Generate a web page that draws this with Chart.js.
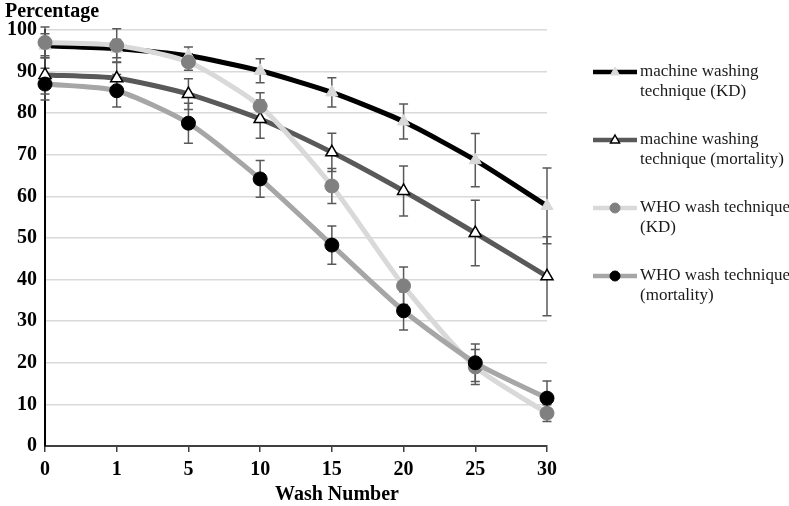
<!DOCTYPE html>
<html>
<head>
<meta charset="utf-8">
<script src="https://cdn.jsdelivr.net/npm/chart.js@4/dist/chart.umd.min.js"></script>
<style>
  html, body { margin: 0; padding: 0; background: #fff; }
  #wrap { width: 789px; height: 506px; }
</style>
</head>
<body>
<div id="wrap"><canvas id="myChart" width="789" height="506"></canvas></div>
<script>
// wash numbers (x axis categories)
var washNumbers = ['0', '1', '5', '10', '15', '20', '25', '30'];
var yTicks = [0, 10, 20, 30, 40, 50, 60, 70, 80, 90, 100];

// series values (%)
var machineKD        = [96.2, 95.5, 93.8, 90.2, 85.0, 78.0, 68.7, 57.7];
var machineMortality = [89.2, 88.4, 84.6, 78.6, 70.6, 61.3, 51.2, 40.8];
var whoKD            = [97.0, 96.3, 92.3, 81.7, 62.5, 38.5, 19.0, 7.9];
var whoMortality     = [87.0, 85.4, 77.6, 64.2, 48.3, 32.5, 20.0, 11.5];

// error bar half-widths
var machineKDErr        = [2.9, 2.2, 2.1, 2.9, 3.5, 4.2, 6.4, 9.1];
var machineMortalityErr = [4.6, 3.8, 3.7, 4.6, 4.6, 6.0, 7.9, 9.5];
var whoKDErr            = [3.7, 4.0, 2.0, 3.2, 4.2, 4.5, 4.2, 2.0];
var whoMortalityErr     = [3.8, 3.9, 4.8, 4.4, 4.6, 4.6, 4.5, 4.1];

var legendNames = [
  ['machine washing', 'technique (KD)'],
  ['machine washing', 'technique (mortality)'],
  ['WHO wash technique', '(KD)'],
  ['WHO wash technique', '(mortality)']
];

var serif = "'Liberation Serif', 'Times New Roman', serif";

function drawMarker(ctx, style, x, y, r, fill, stroke, lw) {
  ctx.save();
  ctx.beginPath();
  if (style === 'triangle') {
    ctx.moveTo(x, y - r);
    ctx.lineTo(x + r * 0.9, y + r * 0.6);
    ctx.lineTo(x - r * 0.9, y + r * 0.6);
    ctx.closePath();
  } else {
    ctx.arc(x, y, r, 0, Math.PI * 2);
  }
  ctx.fillStyle = fill;
  ctx.fill();
  if (lw) {
    ctx.lineWidth = lw;
    ctx.strokeStyle = stroke;
    ctx.stroke();
  }
  ctx.restore();
}

// error bars drawn through the y scale
var errorBars = {
  id: 'errorBars',
  beforeDatasetsDraw: function (chart) {
    var ctx = chart.ctx, y = chart.scales.y;
    ctx.save();
    ctx.strokeStyle = '#595959';
    ctx.lineWidth = 1.5;
    chart.data.datasets.forEach(function (ds, i) {
      var meta = chart.getDatasetMeta(i);
      meta.data.forEach(function (pt, j) {
        var v = ds.data[j], e = ds.errors[j];
        var top = y.getPixelForValue(v + e), bot = y.getPixelForValue(v - e);
        ctx.beginPath();
        ctx.moveTo(pt.x, top); ctx.lineTo(pt.x, bot);
        ctx.moveTo(pt.x - 4.5, top); ctx.lineTo(pt.x + 4.5, top);
        ctx.moveTo(pt.x - 4.5, bot); ctx.lineTo(pt.x + 4.5, bot);
        ctx.stroke();
      });
    });
    ctx.restore();
  }
};

// axis titles and legend at the right
var extras = {
  id: 'extras',
  afterDraw: function (chart) {
    var ctx = chart.ctx;
    ctx.save();
    ctx.fillStyle = '#000';
    ctx.font = 'bold 20px ' + serif;
    ctx.textBaseline = 'middle';
    ctx.textAlign = 'left';
    ctx.fillText('Percentage', 5, 12);
    ctx.textAlign = 'center';
    ctx.fillText('Wash Number', 337, 495);

    ctx.textAlign = 'left';
    ctx.font = '17px ' + serif;
    chart.data.datasets.forEach(function (ds, i) {
      var ly = 72 + i * 68;
      ctx.beginPath();
      ctx.strokeStyle = ds.borderColor;
      ctx.lineWidth = 4.5;
      ctx.moveTo(593, ly); ctx.lineTo(637, ly);
      ctx.stroke();
      drawMarker(ctx, ds.pointStyle, 615, ly, 5, ds.pointBackgroundColor, ds.pointBorderColor, ds.pointBorderWidth);
      ctx.fillStyle = '#1a1a1a';
      ctx.fillText(legendNames[i][0], 640, ly);
      ctx.fillText(legendNames[i][1], 640, ly + 20);
    });
    ctx.restore();
  }
};

var ctx = document.getElementById('myChart').getContext('2d');

var myChart = new Chart(ctx, {
  type: 'line',
  data: {
    labels: washNumbers,
    datasets: [{
      label: 'machine washing technique (KD)',
      data: machineKD,
      errors: machineKDErr,
      borderColor: '#000000',
      borderWidth: 5,
      pointStyle: 'triangle',
      pointRadius: 7,
      pointBackgroundColor: '#d9d9d9',
      pointBorderColor: '#d9d9d9',
      pointBorderWidth: 1,
      order: 4
    }, {
      label: 'machine washing technique (mortality)',
      data: machineMortality,
      errors: machineMortalityErr,
      borderColor: '#595959',
      borderWidth: 5,
      pointStyle: 'triangle',
      pointRadius: 7,
      pointBackgroundColor: '#ffffff',
      pointBorderColor: '#000000',
      pointBorderWidth: 1.5,
      order: 3
    }, {
      label: 'WHO wash technique (KD)',
      data: whoKD,
      errors: whoKDErr,
      borderColor: '#d9d9d9',
      borderWidth: 5,
      pointStyle: 'circle',
      pointRadius: 7,
      pointBackgroundColor: '#808080',
      pointBorderColor: '#808080',
      pointBorderWidth: 1,
      order: 2
    }, {
      label: 'WHO wash technique (mortality)',
      data: whoMortality,
      errors: whoMortalityErr,
      borderColor: '#a6a6a6',
      borderWidth: 5,
      pointStyle: 'circle',
      pointRadius: 7,
      pointBackgroundColor: '#000000',
      pointBorderColor: '#000000',
      pointBorderWidth: 1,
      order: 1
    }]
  },
  options: {
    responsive: false,
    animation: false,
    tension: 0.22,
    layout: { padding: { left: 0, right: 242, top: 30, bottom: 0 } },
    plugins: {
      legend: { display: false },
      tooltip: { enabled: false }
    },
    scales: {
      x: {
        offset: false,
        afterFit: function (s) { s.height = 60; },
        grid: { drawOnChartArea: false, drawTicks: true, tickLength: 6, color: '#404040', lineWidth: 1.5 },
        border: { color: '#404040', width: 2 },
        ticks: { color: '#000', padding: 6, font: { family: serif, size: 20, weight: 'bold' } }
      },
      y: {
        min: 0,
        max: 100,
        afterFit: function (s) { s.width = 45; },
        afterBuildTicks: function (s) { s.ticks = yTicks.map(function (v) { return { value: v }; }); },
        grid: { color: '#d9d9d9', lineWidth: 1.5, drawTicks: false },
        border: { color: '#000', width: 2 },
        ticks: { color: '#000', padding: 8, font: { family: serif, size: 20, weight: 'bold' } }
      }
    }
  },
  plugins: [errorBars, extras]
});

myChart.update();
</script>
</body>
</html>
